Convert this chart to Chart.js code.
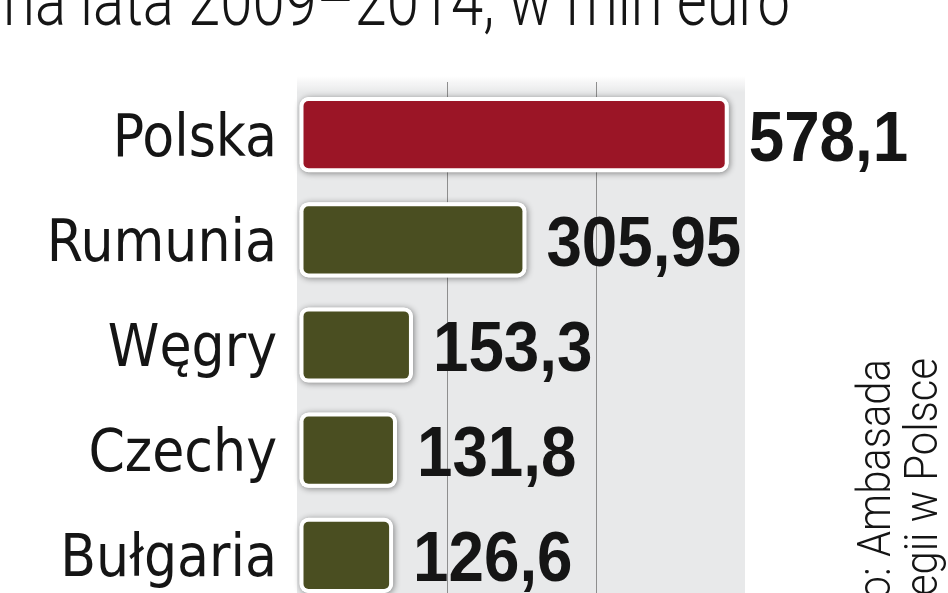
<!DOCTYPE html>
<html lang="pl">
<head>
<meta charset="utf-8">
<title>Fundusze na lata 2009–2014</title>
<script src="https://cdn.jsdelivr.net/npm/chart.js@4.4.1/dist/chart.umd.min.js"></script>
<style>
  html, body { margin: 0; padding: 0; background: #fff; overflow: hidden; }
  #wrap { position: relative; width: 948px; height: 608px; }
</style>
</head>
<body>
<div id="wrap"><canvas id="chart"></canvas></div>
<script>
// data
const categories = ['Polska', 'Rumunia', 'Węgry', 'Czechy', 'Bułgaria'];
const values = [578.1, 305.95, 153.3, 131.8, 126.6];
const axisMax = 600;
const gridStep = 200;
const titleText = 'na lata 2009–2014, w mln euro';
const sourceLines = ['Źródło: Ambasada', 'Królestwa Norwegii w Polsce'];

const RED = '#9b1526';
const OLIVE = '#4a4e21';
const INK = '#151515';

// gray panel behind the plot area
const panelPlugin = {
    id: 'panel',
    beforeDraw(chart) {
        const { ctx, chartArea: a } = chart;
        ctx.save();
        const grad = ctx.createLinearGradient(0, a.top - 6, 0, a.top + 10);
        grad.addColorStop(0, 'rgba(232,233,234,0)');
        grad.addColorStop(1, '#e8e9ea');
        ctx.fillStyle = grad;
        ctx.fillRect(a.left - 2, a.top - 6, a.right - a.left + 2, a.bottom - a.top + 6);
        ctx.restore();
    }
};

// soft shadow under each bar (drawn before the bars themselves)
const shadowPlugin = {
    id: 'barShadow',
    beforeDatasetsDraw(chart) {
        const ctx = chart.ctx;
        const meta = chart.getDatasetMeta(0);
        ctx.save();
        ctx.shadowColor = 'rgba(0,0,0,0.45)';
        ctx.shadowBlur = 6;
        ctx.shadowOffsetX = 1;
        ctx.shadowOffsetY = 1;
        ctx.fillStyle = '#fff';
        meta.data.forEach(bar => {
            const { x, y, base, height } = bar.getProps(['x', 'y', 'base', 'height'], true);
            ctx.beginPath();
            ctx.roundRect(base, y - height / 2, x - base, height, 9);
            ctx.fill();
        });
        ctx.restore();
    }
};

// big bold numbers next to the bars
const valueLabels = {
    id: 'valueLabels',
    afterDatasetsDraw(chart) {
        const ctx = chart.ctx;
        const meta = chart.getDatasetMeta(0);
        ctx.save();
        ctx.font = 'bold 70px "Liberation Sans", Arial, sans-serif';
        ctx.fillStyle = INK;
        ctx.textBaseline = 'alphabetic';
        meta.data.forEach((bar, i) => {
            const txt = String(values[i]).replace('.', ',');
            ctx.save();
            ctx.translate(bar.x + 20, bar.y + 26);
            ctx.scale(0.91, 1);
            ctx.fillText(txt, 0, 0);
            ctx.restore();
        });
        ctx.restore();
    }
};

// title (cut at the top) and the rotated source note
const textPlugin = {
    id: 'texts',
    afterDraw(chart) {
        const ctx = chart.ctx;
        ctx.save();
        ctx.fillStyle = INK;
        ctx.font = '300 72px Roboto, "Open Sans", sans-serif';
        const w = ctx.measureText(titleText).width;
        ctx.translate(3, 25);
        ctx.scale(787 / w, 1);
        ctx.fillText(titleText, 0, 0);
        ctx.restore();

        ctx.save();
        ctx.fillStyle = INK;
        ctx.font = '300 46px Roboto, "Open Sans", sans-serif';
        const s = 198 / ctx.measureText('Ambasada').width;
        ctx.textAlign = 'right';
        [[890, 359], [937, 358]].forEach(([x, y], i) => {
            ctx.save();
            ctx.translate(x, y);
            ctx.rotate(-Math.PI / 2);
            ctx.scale(s, 1);
            ctx.fillText(sourceLines[i], 0, 0);
            ctx.restore();
        });
        ctx.restore();
    }
};

const ctx = document.getElementById('chart').getContext('2d');
new Chart(ctx, {
    type: 'bar',
    data: {
        labels: categories,
        datasets: [{
            data: values,
            backgroundColor: c => (c.dataIndex === 0 ? RED : OLIVE),
            borderColor: '#fff',
            borderWidth: 4,
            borderRadius: 9,
            borderSkipped: false,
            barPercentage: 0.715,
            categoryPercentage: 1
        }]
    },
    options: {
        indexAxis: 'y',
        responsive: true,
        maintainAspectRatio: false,
        animation: false,
        layout: { padding: { top: 82, right: 203, left: 0, bottom: 0 } },
        scales: {
            x: {
                min: 0,
                max: axisMax,
                ticks: { display: false, stepSize: gridStep },
                grid: {
                    drawTicks: false,
                    lineWidth: 1,
                    color: c => (c.tick.value === 0 || c.tick.value === axisMax) ? 'rgba(0,0,0,0)' : '#8e8e8e'
                },
                border: { display: false },
                afterFit(scale) { scale.height = 0; }
            },
            y: {
                grid: { display: false, drawTicks: false },
                border: { display: false },
                ticks: {
                    color: INK,
                    padding: 22,
                    labelOffset: 6,
                    font: { family: '"DejaVu Sans Condensed", "DejaVu Sans", sans-serif', size: 58 }
                },
                afterFit(scale) {
                    scale.width = 299;
                    // the last label may run off the canvas, like in the print
                    scale.paddingTop = 0;
                    scale.paddingBottom = 0;
                }
            }
        },
        plugins: {
            legend: { display: false },
            tooltip: { enabled: false }
        }
    },
    plugins: [panelPlugin, shadowPlugin, valueLabels, textPlugin]
});
</script>
</body>
</html>
